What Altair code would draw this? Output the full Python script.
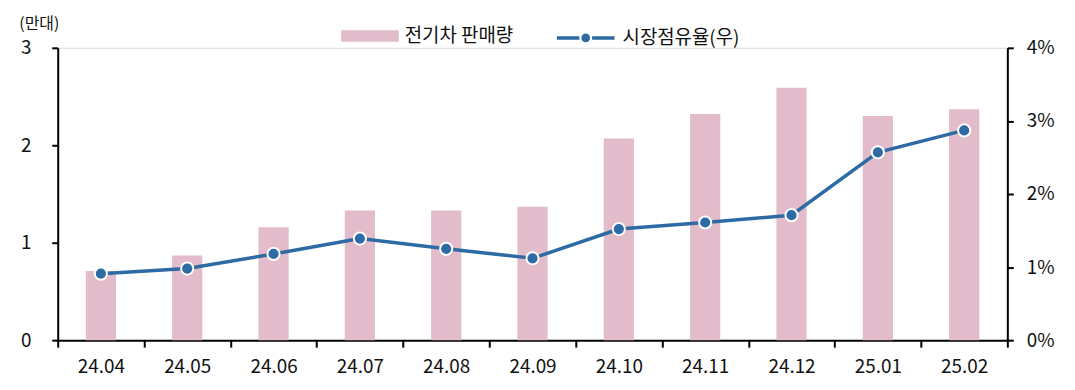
import altair as alt
import pandas as pd

months = ["24.04", "24.05", "24.06", "24.07", "24.08", "24.09", "24.10", "24.11", "24.12", "25.01", "25.02"]
sales = [0.71, 0.87, 1.16, 1.33, 1.33, 1.37, 2.07, 2.32, 2.59, 2.30, 2.37]
share = [0.91, 0.98, 1.18, 1.39, 1.25, 1.12, 1.52, 1.61, 1.71, 2.57, 2.87]

bar_name = "전기차 판매량"
line_name = "시장점유율(우)"
FONT = "Noto Sans CJK KR"
PINK = "#E2BCCA"
BLUE = "#2E6BA4"

df = pd.DataFrame({"month": months, "sales": sales, "share": share,
                   "s1": bar_name, "s2": line_name})

x = alt.X("month:N", sort=months, title=None,
          scale=alt.Scale(paddingInner=0, paddingOuter=0),
          axis=alt.Axis(tickBand="extent", labelAngle=0, labelFontSize=19, labelFont=FONT,
                        labelColor="#111", labelPadding=11, domainColor="#000", domainWidth=2,
                        tickColor="#000", tickWidth=2, tickSize=7))

bars = alt.Chart(df).mark_bar(width=alt.RelativeBandSize(0.35)).encode(
    x=x,
    y=alt.Y("sales:Q", scale=alt.Scale(domain=[0, 3]),
            axis=alt.Axis(values=[0, 1, 2, 3], title="(만대)", titleAngle=0, titleFont=FONT,
                          titleFontSize=16, titleFontWeight="normal", titleColor="#111",
                          titleX=-19, titleY=-19, titleAlign="center", titleBaseline="alphabetic",
                          labelFontSize=19, labelFont=FONT, labelColor="#111", labelPadding=21,
                          domainColor="#000", domainWidth=2, tickColor="#000", tickWidth=2,
                          tickSize=6, grid=False)),
    fill=alt.Fill("s1:N", scale=alt.Scale(domain=[bar_name], range=[PINK]),
                  legend=alt.Legend(title=None, orient="none", legendX=285, legendY=-41,
                                    symbolType="M-1,-0.2H1V0.2H-1Z", symbolSize=3364,
                                    symbolStrokeWidth=0, labelFontSize=19, labelFont=FONT,
                                    labelColor="#111", labelOffset=6)),
)

yr = alt.Y("share:Q", scale=alt.Scale(domain=[0, 4]),
           axis=alt.Axis(orient="right", values=[0, 1, 2, 3, 4], labelExpr="datum.value + '%'",
                         title=None, labelFontSize=19, labelFont=FONT, labelColor="#111",
                         labelPadding=13, domainColor="#000", domainWidth=2, tickColor="#000",
                         tickWidth=2, tickSize=6, grid=False))

line = alt.Chart(df).mark_line(strokeWidth=3.5).encode(
    x=x, y=yr,
    stroke=alt.Stroke("s2:N", scale=alt.Scale(domain=[line_name], range=[BLUE]),
                      legend=alt.Legend(title=None, orient="none", legendX=500, legendY=-41,
                                        symbolType="M-1,0H-0.22M0.22,0H1M-0.09,0A0.09,0.09 0 1,0 0.09,0A0.09,0.09 0 1,0 -0.09,0",
                                        symbolSize=3364, symbolStrokeWidth=3.5,
                                        symbolFillColor=BLUE, labelFontSize=19, labelFont=FONT,
                                        labelColor="#111", labelOffset=6)),
)

pts = alt.Chart(df).mark_point(filled=True, size=150, fill=BLUE, stroke="white",
                               strokeWidth=2, opacity=1).encode(x=x, y=yr)

right = alt.layer(line, pts)

chart = alt.layer(bars, right).resolve_scale(y="independent").properties(
    width=955, height=294,
    autosize=alt.AutoSizeParams(type="none"),
    padding={"left": 50, "top": 39, "right": 60, "bottom": 40},
).configure_view(stroke=None).configure(font=FONT)

chart.save("out.html", embed_options={"renderer": "svg", "actions": False})
